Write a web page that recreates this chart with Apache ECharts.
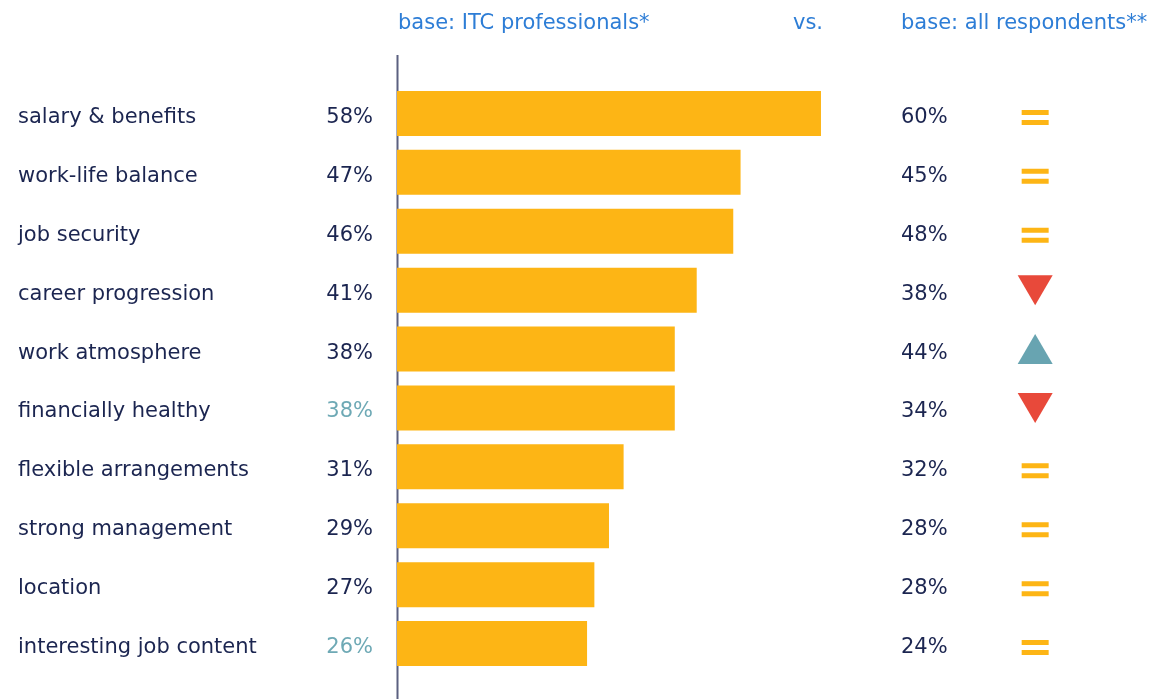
<!DOCTYPE html>
<html>
<head>
<meta charset="utf-8">
<script src="https://cdn.jsdelivr.net/npm/echarts@6/dist/echarts.min.js"></script>
<style>
html,body{margin:0;padding:0;background:#fff;}
#c{width:1156px;height:699px;}
</style>
</head>
<body>
<div id="c"></div>
<script>
const categories = ['salary & benefits','work-life balance','job security','career progression','work atmosphere','financially healthy','flexible arrangements','strong management','location','interesting job content'];
const itcValues = [58,47,46,41,38,38,31,29,27,26];
const allValues = [60,45,48,38,44,34,32,28,28,24];
const trends = ['eq','eq','eq','down','up','down','eq','eq','eq','eq'];
const highlighted = [false,false,false,false,false,true,false,false,false,true];
const headers = ['base: ITC professionals*','vs.','base: all respondents**'];

const FONT = '"DejaVu Sans", sans-serif';
const FS = 21;
const NAVY = '#1b2550';
const TEAL = '#6ea9b5';
const BAR = '#fdb515';
const BLUE = '#2d7dd6';
const RED = '#e8493a';
const UPC = '#68a4b1';

const eqPath = 'path://M0,0H27V5H0Z M0,10H27V15H0Z';
const iconX = 0.873;
const hdrStyle = {fontFamily:FONT,fontSize:FS,fontWeight:'normal',color:BLUE};
const LBL = {fontSize:FS, fontFamily:FONT, verticalAlign:'top', lineHeight:8};

const chart = echarts.init(document.getElementById('c'));
chart.setOption({
  animation:false,
  backgroundColor:'#fff',
  textStyle:{fontFamily:FONT},
  title:[
    {text:headers[0], left:398, top:13, padding:0, textStyle:hdrStyle},
    {text:headers[1], left:793, top:13, padding:0, textStyle:hdrStyle},
    {text:headers[2], left:901, top:13, padding:0, textStyle:hdrStyle}
  ],
  grid:{left:397, top:84, width:731, height:589, containLabel:false},
  xAxis:[
    {type:'value', min:0, max:100, show:false},
    {type:'value', min:0, max:1, show:false}
  ],
  yAxis:[
    {type:'category', data:categories, inverse:true, position:'left',
     axisLine:{show:false}, axisTick:{show:false}, splitLine:{show:false},
     axisLabel:Object.assign({align:'left', margin:379, color:NAVY}, LBL)},
    {type:'category', data:itcValues.map(v=>v+'%'), inverse:true, position:'left',
     axisLine:{show:false}, axisTick:{show:false}, splitLine:{show:false},
     axisLabel:Object.assign({align:'right', margin:24,
       color:function(v,i){return highlighted[i]?TEAL:NAVY;}}, LBL)},
    {type:'category', data:allValues.map(v=>v+'%'), inverse:true, position:'right', offset:-227,
     axisLine:{show:false}, axisTick:{show:false}, splitLine:{show:false},
     axisLabel:Object.assign({align:'left', margin:0, color:NAVY}, LBL)}
  ],
  series:[
    {type:'bar', xAxisIndex:0, yAxisIndex:0, data:itcValues, barWidth:45,
     itemStyle:{color:BAR}, silent:true},
    {type:'scatter', xAxisIndex:1, yAxisIndex:0, silent:true,
     itemStyle:{opacity:1},
     data:trends.map((t,i)=>{
       if(t==='eq') return {value:[iconX,categories[i]], symbol:eqPath, symbolSize:[27,15], symbolOffset:[0,4], itemStyle:{color:BAR,opacity:1}};
       if(t==='down') return {value:[iconX,categories[i]], symbol:'triangle', symbolRotate:180, symbolSize:[35,30], itemStyle:{color:RED,opacity:1}};
       return {value:[iconX,categories[i]], symbol:'triangle', symbolSize:[35,30], itemStyle:{color:UPC,opacity:1}};
     })}
  ],
  graphic:[
    {type:'line', shape:{x1:397.5,y1:55,x2:397.5,y2:699}, style:{stroke:'#5b6080', lineWidth:2}}
  ]
});
</script>
</body>
</html>
